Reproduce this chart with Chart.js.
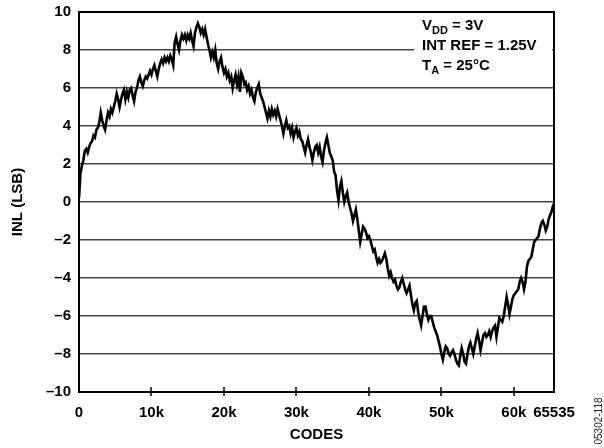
<!DOCTYPE html>
<html>
<head>
<meta charset="utf-8">
<script src="https://cdn.jsdelivr.net/npm/chart.js@4/dist/chart.umd.min.js"></script>
<style>
  html, body { margin: 0; padding: 0; background: #fff; }
  canvas { display: block; }
</style>
</head>
<body>
<canvas id="graficoInl" width="604" height="448"></canvas>
<script>
// codigos em milhares (k)
const codigosK = [
  0, 0.2, 0.4, 0.6, 0.8, 1, 1.2, 1.4, 1.6, 1.8,
  2, 2.2, 2.4, 2.6, 2.8, 3, 3.2, 3.4, 3.6, 3.8,
  4, 4.2, 4.4, 4.6, 4.8, 5, 5.2, 5.4, 5.6, 5.8,
  6, 6.2, 6.4, 6.6, 6.8, 7, 7.2, 7.4, 7.6, 7.8,
  8, 8.2, 8.4, 8.6, 8.8, 9, 9.2, 9.4, 9.6, 9.8,
  10, 10.2, 10.4, 10.6, 10.8, 11, 11.2, 11.4, 11.6, 11.8,
  12, 12.2, 12.4, 12.6, 12.8, 13, 13.2, 13.4, 13.6, 13.8,
  14, 14.2, 14.4, 14.6, 14.8, 15, 15.2, 15.4, 15.6, 15.8,
  16, 16.2, 16.4, 16.6, 16.8, 17, 17.2, 17.4, 17.6, 17.8,
  18, 18.2, 18.4, 18.6, 18.8, 19, 19.2, 19.4, 19.6, 19.8,
  20, 20.2, 20.4, 20.6, 20.8, 21, 21.2, 21.4, 21.6, 21.8,
  22, 22.2, 22.4, 22.6, 22.8, 23, 23.2, 23.4, 23.6, 23.8,
  24, 24.2, 24.4, 24.6, 24.8, 25, 25.2, 25.4, 25.6, 25.8,
  26, 26.2, 26.4, 26.6, 26.8, 27, 27.2, 27.4, 27.6, 27.8,
  28, 28.2, 28.4, 28.6, 28.8, 29, 29.2, 29.4, 29.6, 29.8,
  30, 30.2, 30.4, 30.6, 30.8, 31, 31.2, 31.4, 31.6, 31.8,
  32, 32.2, 32.4, 32.6, 32.8, 33, 33.2, 33.4, 33.6, 33.8,
  34, 34.2, 34.4, 34.6, 34.8, 35, 35.2, 35.4, 35.6, 35.8,
  36, 36.2, 36.4, 36.6, 36.8, 37, 37.2, 37.4, 37.6, 37.8,
  38, 38.2, 38.4, 38.6, 38.8, 39, 39.2, 39.4, 39.6, 39.8,
  40, 40.2, 40.4, 40.6, 40.8, 41, 41.2, 41.4, 41.6, 41.8,
  42, 42.2, 42.4, 42.6, 42.8, 43, 43.2, 43.4, 43.6, 43.8,
  44, 44.2, 44.4, 44.6, 44.8, 45, 45.2, 45.4, 45.6, 45.8,
  46, 46.2, 46.4, 46.6, 46.8, 47, 47.2, 47.4, 47.6, 47.8,
  48, 48.2, 48.4, 48.6, 48.8, 49, 49.2, 49.4, 49.6, 49.8,
  50, 50.2, 50.4, 50.6, 50.8, 51, 51.2, 51.4, 51.6, 51.8,
  52, 52.2, 52.4, 52.6, 52.8, 53, 53.2, 53.4, 53.6, 53.8,
  54, 54.2, 54.4, 54.6, 54.8, 55, 55.2, 55.4, 55.6, 55.8,
  56, 56.2, 56.4, 56.6, 56.8, 57, 57.2, 57.4, 57.6, 57.8,
  58, 58.2, 58.4, 58.6, 58.8, 59, 59.2, 59.4, 59.6, 59.8,
  60, 60.2, 60.4, 60.6, 60.8, 61, 61.2, 61.4, 61.6, 61.8,
  62, 62.2, 62.4, 62.6, 62.8, 63, 63.2, 63.4, 63.6, 63.8,
  64, 64.2, 64.4, 64.6, 64.8, 65, 65.2, 65.4, 65.535
];

// INL (LSB) em cada codigo acima
const valoresInl = [
  0.2, 1.5, 1.9, 2.2, 2.7, 2.8, 2.6, 2.9, 3.1, 3.2,
  3.5, 3.4, 3.8, 3.9, 4.2, 4.7, 4.3, 4.0, 3.8, 4.3,
  4.7, 4.5, 4.9, 4.7, 5.0, 5.3, 5.7, 5.4, 5.0, 5.4,
  5.7, 5.9, 5.4, 5.8, 5.5, 5.9, 6.0, 5.6, 5.3, 5.8,
  6.0, 6.4, 6.6, 6.3, 6.1, 6.4, 6.6, 6.5, 6.7, 6.9,
  6.7, 7.0, 7.2, 6.9, 6.6, 7.0, 7.3, 7.5, 7.3, 7.6,
  7.4, 7.6, 7.4, 7.7, 7.5, 7.2, 8.4, 8.7, 8.3, 8.0,
  8.5, 8.8, 8.6, 8.8, 8.5, 8.8, 8.6, 8.9, 8.5, 8.2,
  8.9, 9.2, 9.4, 9.2, 8.9, 9.1, 8.8, 9.1, 8.7, 8.3,
  8.0, 7.6, 7.9, 7.6, 8.0, 7.3, 7.0, 7.4, 7.6, 7.1,
  6.8, 7.0, 6.6, 6.8, 6.4, 6.6, 6.0, 6.4, 6.7, 6.2,
  6.6, 5.8, 6.8, 6.6, 6.2, 6.3, 5.9, 6.1, 5.7, 5.9,
  5.5, 5.3, 5.8, 6.0, 6.2, 5.7, 5.5, 5.3, 5.0, 4.7,
  4.4, 4.8, 4.5, 4.9, 4.6, 4.8, 4.5, 4.9, 4.6, 4.3,
  4.0, 3.6, 4.0, 4.3, 3.9, 4.0, 3.6, 3.9, 3.4, 3.7,
  3.9, 3.5, 3.7, 3.3, 3.2, 2.9, 2.6, 3.0, 3.3, 2.9,
  2.6, 2.2, 2.6, 2.9, 3.0, 2.6, 2.9, 2.4, 2.1, 2.7,
  3.1, 3.4, 3.0, 2.6, 2.4, 2.2, 1.6, 1.4, 0.6, 0.1,
  0.8, 1.1, 0.5, 0.0, 0.3, 0.5, 0.0, -0.3, -0.6, -1.0,
  -0.7, -0.4, -0.9, -1.5, -2.1, -1.7, -1.3, -1.4, -1.6, -1.9,
  -1.8, -2.0, -2.3, -2.6, -2.5, -2.9, -3.2, -3.0, -3.2, -3.1,
  -2.9, -2.7, -3.0, -3.5, -3.9, -3.7, -4.0, -4.2, -4.1, -4.4,
  -4.6, -4.5, -4.2, -4.0, -4.3, -4.6, -4.8, -4.6, -4.4, -4.9,
  -5.4, -5.7, -5.3, -5.2, -5.8, -6.2, -6.5, -6.0, -5.5, -5.5,
  -5.9, -6.2, -6.0, -6.0, -6.3, -6.6, -6.8, -7.0, -7.3, -7.6,
  -8.0, -8.3, -7.9, -7.6, -7.7, -8.0, -8.1, -7.9, -7.8, -8.0,
  -8.3, -8.5, -8.6, -8.1, -7.7, -8.0, -8.4, -8.5, -8.0, -7.6,
  -7.4, -7.7, -8.0, -7.6, -7.2, -6.9, -7.3, -7.8, -7.4, -7.0,
  -6.9, -7.1, -7.0, -6.8, -7.1, -6.8, -6.6, -6.5, -7.1, -6.6,
  -6.1, -6.2, -6.3, -6.0, -5.5, -5.0, -5.4, -5.9, -5.5, -5.1,
  -4.9, -4.8, -4.7, -4.6, -4.2, -4.0, -4.2, -4.6, -4.2, -3.4,
  -3.1, -3.0, -2.9, -2.5, -2.1, -2.0, -1.9, -1.8, -1.4, -1.1,
  -1.0, -1.2, -1.5, -1.3, -0.9, -0.7, -0.5, -0.2, -0.1
];

const ticksX = [0, 10000, 20000, 30000, 40000, 50000, 60000, 65535];
const rotulosX = ['0', '10k', '20k', '30k', '40k', '50k', '60k', '65535'];
const ticksY = [-10, -8, -6, -4, -2, 0, 2, 4, 6, 8, 10];

// condicoes de teste (texto, subscrito, resto)
const condicoes = [
  ['V', 'DD', ' = 3V'],
  ['INT REF = 1.25V', '', ''],
  ['T', 'A', ' = 25°C']
];
const codigoFigura = '05302-118';

const fonte = '"Liberation Sans", Arial, Helvetica, sans-serif';

const pontos = codigosK.map((k, i) => ({ x: k * 1000, y: valoresInl[i] }));

// moldura, marcas do eixo x, caixa de condicoes e codigo da figura
const extras = {
  id: 'extras',
  afterDraw(chart) {
    const ctx = chart.ctx;
    const area = chart.chartArea;
    const sx = chart.scales.x;

    ctx.save();
    // caixa branca atras do texto
    ctx.fillStyle = '#fff';
    ctx.fillRect(area.right - 140, area.top + 2, 138, 64);

    // marcas no eixo x
    ctx.strokeStyle = '#000';
    ctx.lineWidth = 1.5;
    ticksX.slice(1, -1).forEach(v => {
      const px = Math.round(sx.getPixelForValue(v));
      ctx.beginPath();
      ctx.moveTo(px, area.bottom - 5);
      ctx.lineTo(px, area.bottom + 4);
      ctx.stroke();
    });

    // moldura
    ctx.lineWidth = 2;
    ctx.strokeRect(area.left, area.top, area.right - area.left, area.bottom - area.top);

    // texto das condicoes
    ctx.fillStyle = '#000';
    ctx.textBaseline = 'alphabetic';
    let y = area.top + 18;
    condicoes.forEach(([principal, sub, resto]) => {
      let x = area.right - 132;
      ctx.font = 'bold 15px ' + fonte;
      ctx.fillText(principal, x, y);
      x += ctx.measureText(principal).width;
      if (sub) {
        ctx.font = 'bold 11px ' + fonte;
        ctx.fillText(sub, x, y + 4);
        x += ctx.measureText(sub).width;
        ctx.font = 'bold 15px ' + fonte;
        ctx.fillText(resto, x, y);
      }
      y += 20;
    });

    // codigo da figura, vertical
    ctx.translate(599, 421);
    ctx.rotate(-Math.PI / 2);
    ctx.font = '10px ' + fonte;
    ctx.fillStyle = '#222';
    ctx.textAlign = 'center';
    ctx.textBaseline = 'middle';
    ctx.fillText(codigoFigura, 0, 0);
    ctx.restore();
  }
};

new Chart(document.getElementById('graficoInl').getContext('2d'), {
  type: 'line',
  data: {
    datasets: [{
      data: pontos,
      borderColor: '#000',
      borderWidth: 2.6,
      pointRadius: 0,
      tension: 0,
      fill: false
    }]
  },
  options: {
    responsive: false,
    animation: false,
    devicePixelRatio: 1,
    parsing: false,
    layout: { padding: { top: 12, right: 50, left: 0, bottom: 0 } },
    plugins: {
      legend: { display: false },
      tooltip: { enabled: false }
    },
    scales: {
      x: {
        type: 'linear',
        min: 0,
        max: 65535,
        afterBuildTicks: s => { s.ticks = ticksX.map(v => ({ value: v })); },
        afterFit: s => { s.height = 56; },
        grid: { display: false, drawTicks: false },
        border: { display: false },
        ticks: {
          autoSkip: false,
          maxRotation: 0,
          padding: 12,
          color: '#000',
          font: { family: fonte, size: 15, weight: 'bold' },
          callback: (v, i) => rotulosX[i]
        },
        title: {
          display: true,
          text: 'CODES',
          color: '#000',
          padding: { top: 0, bottom: 4 },
          font: { family: fonte, size: 15, weight: 'bold' }
        }
      },
      y: {
        min: -10,
        max: 10,
        afterBuildTicks: s => { s.ticks = ticksY.map(v => ({ value: v })); },
        afterFit: s => { s.width = 79; },
        grid: { color: '#444', lineWidth: 1.5, drawTicks: false },
        border: { display: false },
        ticks: {
          padding: 8,
          color: '#000',
          font: { family: fonte, size: 15, weight: 'bold', lineHeight: 0.4 },
          callback: v => v < 0 ? '\u2013' + Math.abs(v) : String(v)
        },
        title: {
          display: true,
          text: 'INL (LSB)',
          color: '#000',
          padding: { top: 9, bottom: 0 },
          font: { family: fonte, size: 15, weight: 'bold' }
        }
      }
    }
  },
  plugins: [extras]
});
</script>
</body>
</html>
